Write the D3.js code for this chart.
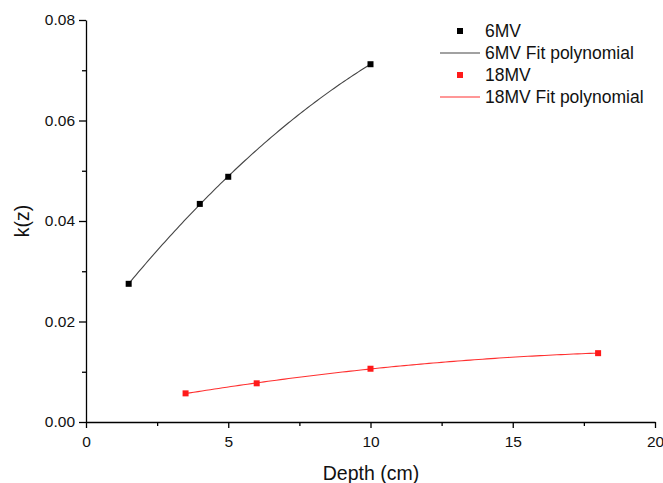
<!DOCTYPE html>
<html>
<head>
<meta charset="utf-8">
<script src="https://cdn.jsdelivr.net/npm/d3@7"></script>
<style>
  html, body { margin: 0; padding: 0; background: #fff; }
  svg { display: block; font-family: "Liberation Sans", Arial, sans-serif; }
</style>
</head>
<body>
<svg id="chart" width="663" height="483"></svg>
<script>
// ---- data ----
const depth6 = [1.5, 4, 5, 10];
const k6 = [0.0275, 0.0434, 0.0488, 0.0712];
const depth18 = [3.5, 6, 10, 18];
const k18 = [0.0057, 0.0077, 0.0106, 0.0137];
const xTicks = [0, 5, 10, 15, 20];
const yTicks = [0, 0.02, 0.04, 0.06, 0.08];
const legendLabels = ["6MV", "6MV Fit polynomial", "18MV", "18MV Fit polynomial"];

// ---- layout ----
const svg = d3.select("#chart");
const mLeft = 86, mRight = 655, mTop = 20, mBottom = 422;
const x = d3.scaleLinear().domain([0, 20]).range([mLeft, mRight]);
const y = d3.scaleLinear().domain([0, 0.08]).range([mBottom, mTop]);

// quadratic least-squares fit
function polyfit2(xs, ys) {
  const n = xs.length;
  let s = [0,0,0,0,0], t = [0,0,0];
  for (let i = 0; i < n; i++) {
    let p = 1;
    for (let k = 0; k <= 4; k++) { s[k] += p; p *= xs[i]; }
    p = 1;
    for (let k = 0; k <= 2; k++) { t[k] += p * ys[i]; p *= xs[i]; }
  }
  const A = [[s[0], s[1], s[2], t[0]], [s[1], s[2], s[3], t[1]], [s[2], s[3], s[4], t[2]]];
  for (let c = 0; c < 3; c++) {
    for (let r = c + 1; r < 3; r++) {
      const f = A[r][c] / A[c][c];
      for (let k = c; k < 4; k++) A[r][k] -= f * A[c][k];
    }
  }
  const b = [0,0,0];
  for (let r = 2; r >= 0; r--) {
    let v = A[r][3];
    for (let k = r + 1; k < 3; k++) v -= A[r][k] * b[k];
    b[r] = v / A[r][r];
  }
  return xv => b[0] + b[1] * xv + b[2] * xv * xv;
}

function fitPoints(xs, ys) {
  const f = polyfit2(xs, ys);
  const lo = d3.min(xs), hi = d3.max(xs);
  return d3.range(0, 101).map(i => { const xv = lo + (hi - lo) * i / 100; return [xv, f(xv)]; });
}

const line = d3.line().x(d => x(d[0])).y(d => y(d[1]));

// ---- axes ----
const xAxis = svg.append("g").attr("transform", `translate(0,${mBottom})`)
  .call(d3.axisBottom(x).tickValues(xTicks).tickFormat(d3.format("d")).tickSize(6).tickPadding(3).tickSizeOuter(0));
const xMinor = svg.append("g").attr("transform", `translate(0,${mBottom})`)
  .call(d3.axisBottom(x).tickValues([2.5, 7.5, 12.5, 17.5]).tickFormat("").tickSize(4).tickSizeOuter(0));
xMinor.select(".domain").remove();

const yAxis = svg.append("g").attr("transform", `translate(${mLeft},0)`)
  .call(d3.axisLeft(y).tickValues(yTicks).tickFormat(d3.format(".2f")).tickSize(7).tickPadding(4).tickSizeOuter(0));
const yMinor = svg.append("g").attr("transform", `translate(${mLeft},0)`)
  .call(d3.axisLeft(y).tickValues([0.01, 0.03, 0.05, 0.07]).tickFormat("").tickSize(4).tickSizeOuter(0));
yMinor.select(".domain").remove();

[xAxis, yAxis, xMinor, yMinor].forEach(g => {
  g.selectAll("path, line").attr("stroke", "#000").attr("stroke-width", 1.3);
  g.selectAll("text").attr("font-size", 15.5).attr("fill", "#111")
    .attr("font-family", "'Liberation Sans', Arial, sans-serif");
});
xAxis.selectAll("text").attr("dy", "1em");

// axis titles
svg.append("text").attr("x", 371).attr("y", 480)
  .attr("text-anchor", "middle").attr("font-size", 19.5).attr("fill", "#111").text("Depth (cm)");
svg.append("text").attr("transform", `translate(29,${(mTop + mBottom) / 2}) rotate(-90)`)
  .attr("text-anchor", "middle").attr("font-size", 19.5).attr("fill", "#111").text("k(z)");

// ---- series ----
const series = [
  { xs: depth6, ys: k6, color: "#000", lineColor: "#444" },
  { xs: depth18, ys: k18, color: "#ff1a1a", lineColor: "#ff3030" }
];
series.forEach(s => {
  svg.append("path").datum(fitPoints(s.xs, s.ys))
    .attr("d", line).attr("fill", "none").attr("stroke", s.lineColor).attr("stroke-width", 1.1);
  svg.append("g").selectAll("rect").data(s.xs.map((v, i) => [v, s.ys[i]])).join("rect")
    .attr("x", d => x(d[0]) - 3).attr("y", d => y(d[1]) - 3)
    .attr("width", 6).attr("height", 6).attr("fill", s.color);
});

// ---- legend ----
const legend = svg.append("g");
const legColors = ["#000", "#444", "#ff1a1a", "#ff3030"];
const legY = [31, 53, 75, 97];
legendLabels.forEach((lab, i) => {
  if (i % 2 === 0) {
    legend.append("rect").attr("x", 457).attr("y", legY[i] - 3).attr("width", 6).attr("height", 6).attr("fill", legColors[i]);
  } else {
    legend.append("line").attr("x1", 440).attr("x2", 480).attr("y1", legY[i]).attr("y2", legY[i])
      .attr("stroke", legColors[i]).attr("stroke-width", 1.1);
  }
  legend.append("text").attr("x", 485).attr("y", legY[i]).attr("dy", "0.36em")
    .attr("font-size", 17.5).attr("fill", "#111").text(lab);
});
</script>
</body>
</html>
